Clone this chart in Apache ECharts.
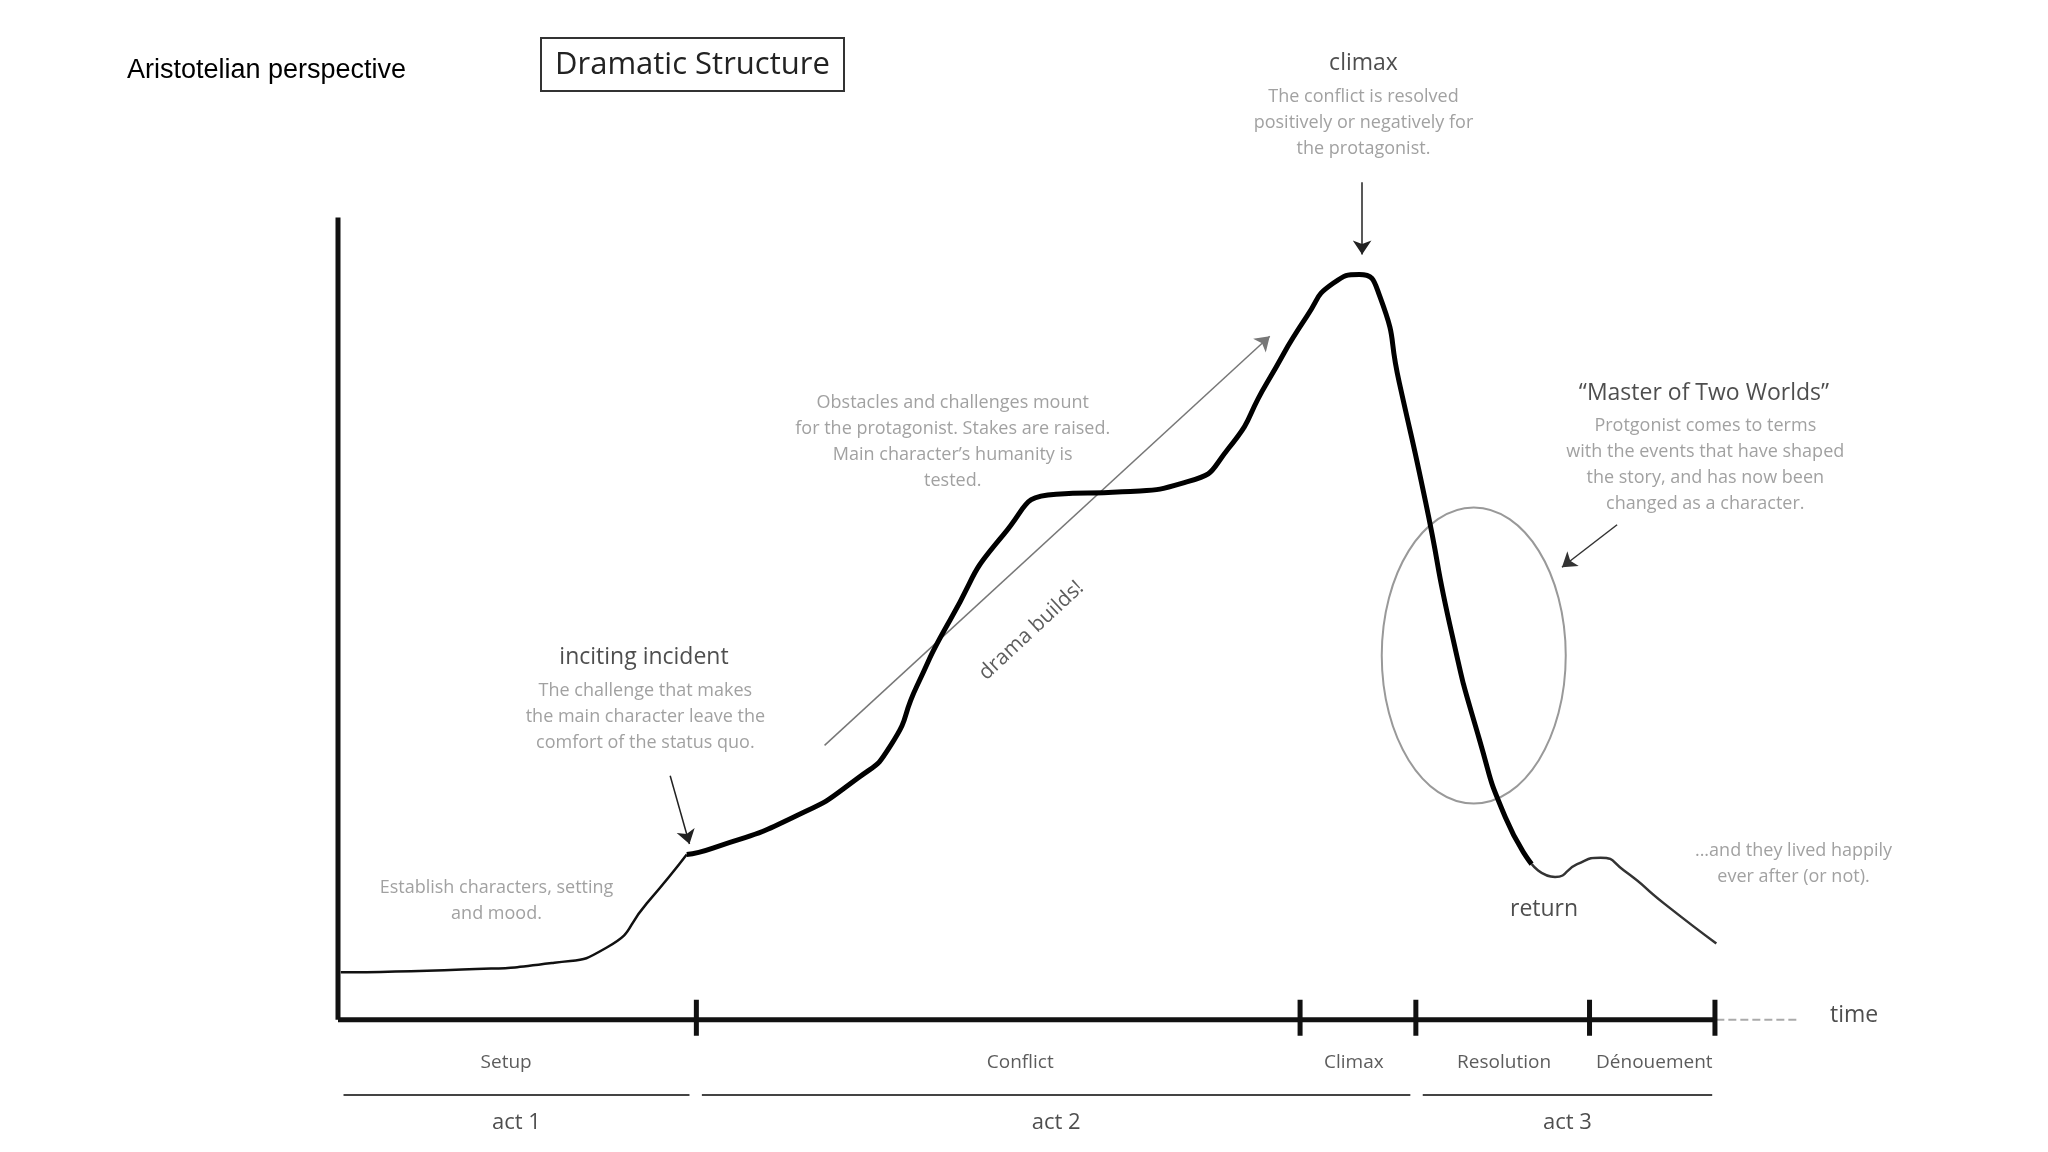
<!DOCTYPE html>
<html>
<head>
<meta charset="utf-8">
<script src="https://cdn.jsdelivr.net/npm/echarts@6/dist/echarts.min.js"></script>
<style>html,body{margin:0;background:#fff}#c{width:2048px;height:1152px}</style>
</head>
<body>
<div id="c"></div>
<script>
// tension curve (time 0-100, tension 0-100)
var curveStart = [[0.2,5.9],[9,6.25],[15.7,7.1],[19.5,9],[22.4,14.5],[25.3,20.6]];
var curveMid = [[25.3,20.6],[27.2,21.4],[33,25.2],[37.7,30.1],[40.1,34.2],[42,41.6],[44.4,49.8],[48.3,60.5],[52.1,65.5],[56.9,65.8],[61.7,67.1],[64.6,71.2],[67.4,79.4],[70.3,87.7],[72.2,91.8],[74.1,92.9],[75.6,90.1],[77,79.4],[78.9,64.6],[80.8,48.2],[82.8,35],[84.7,25.2],[86.6,19.4]];
var curveEnd = [[86.6,19.4],[88.3,17.8],[89.9,19.4],[91.6,20.2],[93.3,18.6],[96.2,14.5],[100,9.5]];
var phaseTicks = [26, 69.8, 78.2, 90.8, 99.9];
var phaseNames = ['Setup', 'Conflict', 'Climax', 'Resolution', 'Dénouement'];
var phaseCenters = [12.2, 49.5, 73.7, 84.6, 95.5];
var acts = ['act 1', 'act 2', 'act 3'];
var actSpans = [[0.4, 25.5], [26.4, 77.8], [78.7, 99.7]];

var FONT = '"Open Sans", "Noto Sans", sans-serif';
var GREY = '#8a8a8a';

function textPt(x, y, text, size, color, extra) {
  var lbl = Object.assign({show: true, position: 'inside', formatter: text, fontFamily: FONT,
    fontSize: size, color: color, align: 'center', verticalAlign: 'middle', lineHeight: size * 1.1}, extra || {});
  return {type: 'scatter', symbolSize: 1, itemStyle: {color: 'rgba(0,0,0,0)'}, silent: true, z: 10,
    data: [{value: [x, y], label: lbl}]};
}
function seg(points, width, color, extra) {
  return Object.assign({type: 'line', data: points, showSymbol: false, symbol: 'none', silent: true,
    lineStyle: {width: width, color: color}}, extra || {});
}
function arrow(a, b, width, color) {
  return {type: 'lines', coordinateSystem: 'cartesian2d', silent: true, symbol: ['none', 'arrow'], symbolSize: 14,
    lineStyle: {color: color, width: width, opacity: 1}, data: [{coords: [a, b]}]};
}

var series = [];
series.push(seg([[0, 0], [0, 100]], 5, '#111'));
series.push(seg([[0, 0], [100, 0]], 5, '#111'));
series.push(seg([[100, 0], [106, 0]], 2, '#aaa', {lineStyle: {width: 2, color: '#aaa', type: 'dashed'}}));
phaseTicks.forEach(function (t) { series.push(seg([[t, -2], [t, 2.5]], 5, '#111')); });
series.push(seg(curveStart, 2.5, '#111', {smooth: 0.6}));
series.push(seg(curveMid, 5, '#000', {smooth: 0.6}));
series.push(seg(curveEnd, 2.5, '#333', {smooth: 0.6}));
actSpans.forEach(function (s, i) {
  series.push(seg([[s[0], -9.4], [s[1], -9.4]], 2, '#444'));
  series.push(textPt((s[0] + s[1]) / 2, -12.9, acts[i], 22, '#222'));
});
phaseNames.forEach(function (n, i) { series.push(textPt(phaseCenters[i], -5.4, n, 19, '#333')); });

series.push(arrow([74.3, 104.4], [74.3, 95.4], 1.5, '#222'));
series.push(arrow([24.1, 30.4], [25.5, 21.9], 1.5, '#222'));
series.push(arrow([92.8, 61.7], [88.8, 56.4], 1.5, '#333'));
series.push(arrow([35.3, 34.2], [67.6, 85.2], 1.5, '#777'));

series.push(textPt(-0.1, 106.6, 'dramatic\ntension', 23, '#222', {lineHeight: 30}));
series.push(textPt(74.4, 119.2, 'climax', 23, '#222'));
series.push(textPt(74.4, 111.8, 'The conflict is resolved\npositively or negatively for\nthe protagonist.', 18, GREY, {lineHeight: 26}));
series.push(textPt(44.6, 72, 'Obstacles and challenges mount\nfor the protagonist. Stakes are raised.\nMain character\u2019s humanity is\ntested.', 18, GREY, {lineHeight: 26}));
series.push(textPt(22.2, 45.1, 'inciting incident', 23, '#222'));
series.push(textPt(22.3, 37.7, 'The challenge that makes\nthe main character leave the\ncomfort of the status quo.', 18, GREY, {lineHeight: 26}));
series.push(textPt(11.5, 14.8, 'Establish characters, setting\nand mood.', 18, GREY, {lineHeight: 26}));
series.push(textPt(99.1, 78.1, '\u201cMaster of Two Worlds\u201d', 23, '#222'));
series.push(textPt(99.2, 69.2, 'Protgonist comes to terms\nwith the events that have shaped\nthe story, and has now been\nchanged as a character.', 18, GREY, {lineHeight: 26}));
series.push(textPt(105.6, 19.4, '...and they lived happily\never after (or not).', 18, GREY, {lineHeight: 26}));
series.push(textPt(87.5, 13.8, 'return', 23, '#222'));
series.push(textPt(110, 0.5, 'time', 23, '#222'));
series.push(textPt(50.3, 48.5, 'drama builds!', 21, '#333', {rotate: 43}));

var chart = echarts.init(document.getElementById('c'));
chart.setOption({
  backgroundColor: '#fff',
  animation: false,
  title: [
    {text: 'Aristotelian perspective', left: 122, top: 52, textStyle: {fontFamily: 'Arial, "Liberation Sans", sans-serif', fontSize: 27, fontWeight: 'normal', color: '#000'}},
    {text: 'Dramatic Structure', left: 541, top: 38, padding: [12, 14, 10, 14], borderColor: '#333', borderWidth: 2,
      textStyle: {fontFamily: FONT, fontSize: 31, fontWeight: 'normal', color: '#222'}}
  ],
  grid: {left: 338, right: 56, top: 17, bottom: 12},
  xAxis: {type: 'value', min: 0, max: 120, show: false},
  yAxis: {type: 'value', min: -15, max: 125, show: false},
  series: series
});
// the circled region around the fall from the climax
var c = chart.convertToPixel({gridIndex: 0}, [82.4, 45.4]);
chart.setOption({graphic: [{type: 'ellipse', shape: {cx: c[0], cy: c[1], rx: 92, ry: 148},
  style: {fill: 'none', stroke: '#999', lineWidth: 2}, silent: true}]});
</script>
</body>
</html>
